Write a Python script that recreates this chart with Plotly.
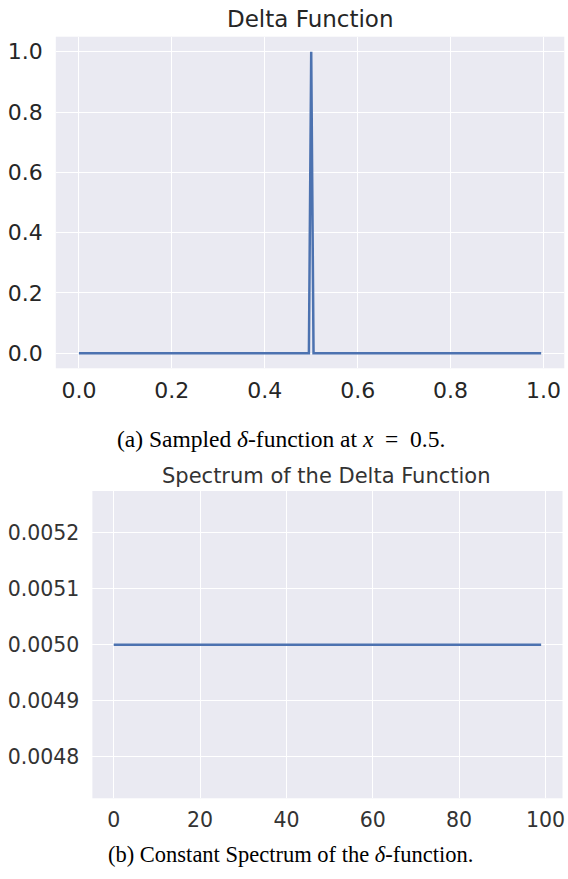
import plotly.graph_objects as go

# ---- data ----
# (a) sampled delta function: 200 samples on [0, 1), spike at x = 0.5
sample_x = [i / 200 for i in range(200)]
delta_values = [0.0] * 100 + [1.0] + [0.0] * 99

# (b) spectrum of the delta function: constant
freq_index = list(range(100))
spectrum_values = [0.005] * 100

top_xticks = [0.0, 0.2, 0.4, 0.6, 0.8, 1.0]
top_yticks = [0.0, 0.2, 0.4, 0.6, 0.8, 1.0]
bot_xticks = [0, 20, 40, 60, 80, 100]
bot_yticks = [0.0048, 0.0049, 0.0050, 0.0051, 0.0052]

W, H = 568, 879
def px(x): return x / W
def py(y): return 1 - y / H

LINE = "#4C72B0"
BG = "#EAEAF2"
SANS = "DejaVu Sans"
SERIF = "Liberation Serif"

fig = go.Figure()
fig.add_trace(go.Scatter(x=sample_x, y=delta_values, mode="lines",
                         line=dict(color=LINE, width=2.5),
                         xaxis="x", yaxis="y", showlegend=False))
fig.add_trace(go.Scatter(x=freq_index, y=spectrum_values, mode="lines",
                         line=dict(color=LINE, width=2.5),
                         xaxis="x2", yaxis="y2", showlegend=False))

common = dict(showgrid=True, gridcolor="white", gridwidth=1.4, zeroline=False,
              showline=False, ticks="")

fig.update_layout(
    width=W, height=H,
    margin=dict(l=0, r=0, t=0, b=0),
    paper_bgcolor="white",
    plot_bgcolor=BG,
    xaxis=dict(domain=[px(56), px(566.3)], range=[-0.04975, 1.04475],
               tickvals=top_xticks, ticktext=[f"{v:.1f}" for v in top_xticks],
               tickfont=dict(family=SANS, size=22, color="#262626"),
               ticklabelstandoff=7, anchor="y", **common),
    yaxis=dict(domain=[py(368.3), py(36.7)], range=[-0.05, 1.05],
               tickvals=top_yticks, ticktext=[f"{v:.1f}" for v in top_yticks],
               tickfont=dict(family=SANS, size=22, color="#262626"),
               ticklabelstandoff=12, anchor="x", **common),
    xaxis2=dict(domain=[px(92.7), px(564.5)], range=[-4.95, 103.95],
                tickvals=bot_xticks, ticktext=[str(v) for v in bot_xticks],
                tickfont=dict(family=SANS, size=20.5, color="#333333"),
                ticklabelstandoff=7, anchor="y2", **common),
    yaxis2=dict(domain=[py(798.3), py(491)], range=[0.004725, 0.005275],
                tickvals=bot_yticks, ticktext=[f"{v:.4f}" for v in bot_yticks],
                tickfont=dict(family=SANS, size=20.5, color="#333333"),
                ticklabelstandoff=12, anchor="x2", **common),
)

annotations = [
    dict(text="Delta Function", x=px(311.5), y=py(19.5),
         font=dict(family=SANS, size=23, color="#262626")),
    dict(text="Spectrum of the Delta Function", x=px(328), y=py(476),
         font=dict(family=SANS, size=21, color="#333333")),
    dict(text="(a) Sampled <i>δ</i>-function at <i>x</i>\u2002=\u20020.5.", x=px(281.5), y=py(438.5),
         font=dict(family=SERIF, size=23.5, color="black")),
    dict(text="(b) Constant Spectrum of the <i>δ</i>-function.", x=px(292), y=py(854),
         font=dict(family=SERIF, size=22.5, color="black")),
]
for a in annotations:
    fig.add_annotation(xref="paper", yref="paper", showarrow=False,
                       xanchor="center", yanchor="middle", **a)

fig.write_html("out.html",
               config={"displayModeBar": False},
               post_script="document.body.style.margin='0';"
                           "document.body.style.padding='0';"
                           "document.body.style.overflow='hidden';")
